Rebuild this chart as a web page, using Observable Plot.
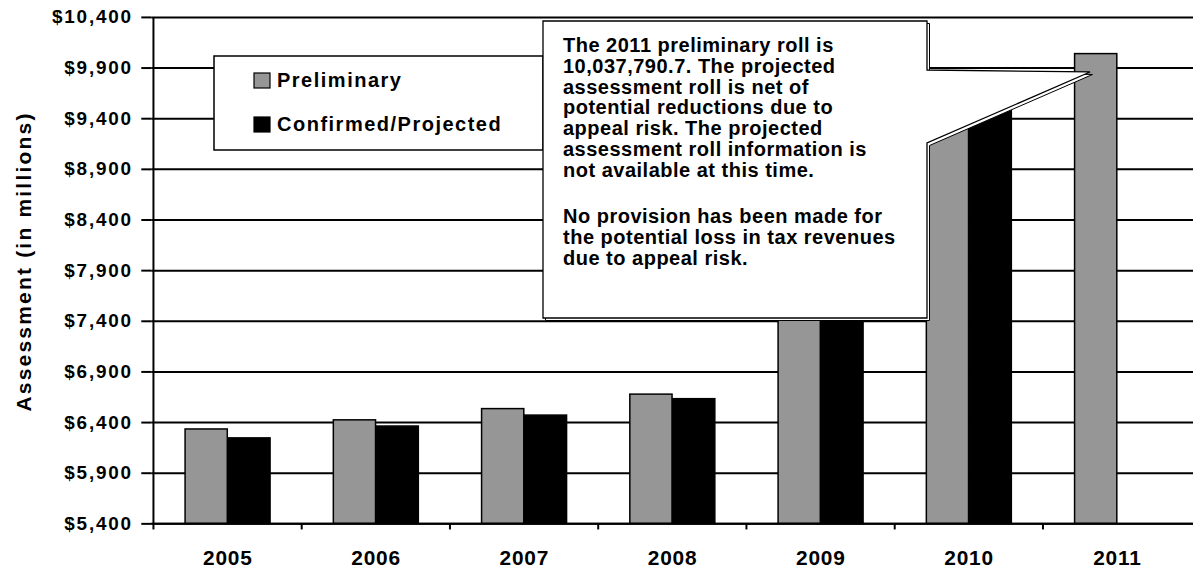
<!DOCTYPE html>
<html>
<head>
<meta charset="utf-8">
<script src="https://cdn.jsdelivr.net/npm/d3@7"></script>
<script src="https://cdn.jsdelivr.net/npm/@observablehq/plot@0.6"></script>
<style>
  html, body { margin: 0; padding: 0; background: #fff; overflow: hidden; }
  #wrap { position: relative; width: 1193px; height: 573px; overflow: hidden; }
  #wrap svg text { font-family: "Liberation Sans", Arial, sans-serif; font-weight: bold; }
  #overlay { position: absolute; left: 0; top: 0; pointer-events: none; }
</style>
</head>
<body>
<div id="wrap"></div>
<script>
// ---- data ----
const years = ["2005", "2006", "2007", "2008", "2009", "2010", "2011"];
const preliminary = [6332, 6422, 6533, 6676, 8600, 9720, 10037.8];
const confirmed = [6244, 6361, 6469, 6631, 8500, 9640, null];
const yTicks = [5400, 5900, 6400, 6900, 7400, 7900, 8400, 8900, 9400, 9900, 10400];
const seriesNames = ["Preliminary", "Confirmed/Projected"];
const seriesColors = ["#969696", "#000000"];
const yTitle = "Assessment (in millions)";
const calloutLines = [
  "The 2011 preliminary roll is",
  "10,037,790.7. The projected",
  "assessment roll is net of",
  "potential reductions due to",
  "appeal risk. The projected",
  "assessment roll information is",
  "not available at this time.",
  "",
  "No provision has been made for",
  "the potential loss in tax revenues",
  "due to appeal risk."
];
const calloutTarget = {year: "2011", value: 9860};

const prelimData = years.map((y, i) => ({year: y, value: preliminary[i]}));
const confData = years.map((y, i) => ({year: y, value: confirmed[i]})).filter(d => d.value != null);

const W = 1199, H = 573, ML = 152, MR = 0, MT = 17, MB = 47;
const bw = (W - ML - MR) / years.length;
const yMin = yTicks[0], yMax = yTicks[yTicks.length - 1];

const chart = Plot.plot({
  width: W, height: H,
  marginLeft: ML, marginRight: MR, marginTop: MT, marginBottom: MB,
  style: {fontFamily: "Liberation Sans, Arial, sans-serif", fontWeight: "bold", background: "white", overflow: "visible"},
  x: {type: "band", domain: years, padding: 0, label: null},
  y: {domain: [yMin, yMax], label: null},
  marks: [
    Plot.gridY(yTicks, {stroke: "black", strokeOpacity: 1, strokeWidth: 2}),
    Plot.barY(prelimData, {x: "year", y1: yMin, y2: "value", fill: seriesColors[0], stroke: "black", strokeWidth: 1.5, insetLeft: 32, insetRight: bw - 75}),
    Plot.barY(confData, {x: "year", y1: yMin, y2: "value", fill: seriesColors[1], stroke: "black", strokeWidth: 1.5, insetLeft: 75, insetRight: bw - 118}),
    Plot.ruleY([yMin], {stroke: "black", strokeWidth: 2}),
    Plot.ruleX([years[0]], {x: d => d, y1: yMin, y2: yMax, dx: -bw / 2, stroke: "black", strokeWidth: 2}),
    Plot.ruleX(years, {x: d => d, y1: yMin, y2: yMin - 60, dx: -bw / 2, stroke: "black", strokeWidth: 2}),
    Plot.axisY(yTicks, {tickSize: 10, tickPadding: 9, tickFormat: d => "$" + d3.format(",")(d), fontSize: 19, strokeWidth: 2, label: null}),
    Plot.axisX({tickSize: 0, tickPadding: 26, fontSize: 21, label: null})
  ]
});
chart.querySelectorAll("text").forEach(t => {
  if (/^\d{4}$/.test(t.textContent)) t.style.letterSpacing = "0.8px";
  if (t.textContent.startsWith("$")) t.style.letterSpacing = "1.8px";
});
document.getElementById("wrap").appendChild(chart);

// ---- overlay: legend, callout, y title ----
const xs = chart.scale("x"), ys = chart.scale("y");
const ov = d3.select("#wrap").append("svg").attr("id", "overlay")
  .attr("width", 1193).attr("height", 573);

// y title
ov.append("text")
  .attr("transform", `translate(31,${(MT + (H - MB)) / 2 - 10}) rotate(-90)`)
  .attr("text-anchor", "middle")
  .style("font-size", "21px").style("letter-spacing", "2.2px")
  .text(yTitle);

// legend
const lg = ov.append("g");
lg.append("rect").attr("x", 214).attr("y", 56).attr("width", 329).attr("height", 94)
  .attr("fill", "white").attr("stroke", "black").attr("stroke-width", 1.5);
seriesNames.forEach((name, i) => {
  const yTop = 73 + i * 44;
  lg.append("rect").attr("x", 254).attr("y", yTop).attr("width", 16).attr("height", 15)
    .attr("fill", seriesColors[i]).attr("stroke", "black").attr("stroke-width", 1.2);
  lg.append("text").attr("x", 277).attr("y", yTop + 14)
    .style("font-size", "20px").style("letter-spacing", "1.5px").text(name);
});

// callout with pointer to 2011 bar
const tipX = xs.apply(calloutTarget.year) + 42;
const tipY = ys.apply(calloutTarget.value);
const bx0 = 543, by0 = 21, bx1 = 927, by1 = 318;
const pathD = `M${bx0},${by0} L${bx1},${by0} L${bx1},70 L${tipX},${tipY} L${bx1},143 L${bx1},${by1} L${bx0},${by1} Z`;
ov.append("path").attr("d", pathD).attr("transform", "translate(2.5,2.5)").attr("fill", "white").attr("stroke", "black").attr("stroke-width", 1);
ov.append("path").attr("d", pathD).attr("fill", "white").attr("stroke", "black").attr("stroke-width", 1.3);
const ct = ov.append("text").style("font-size", "20px").style("letter-spacing", "0.5px");
calloutLines.forEach((line, i) => {
  const cy = i < 7 ? 45 + i * 20.8 : 216 + (i - 8) * 21;
  ct.append("tspan").attr("x", 563).attr("y", cy + 7).text(line);
});
</script>
</body>
</html>
